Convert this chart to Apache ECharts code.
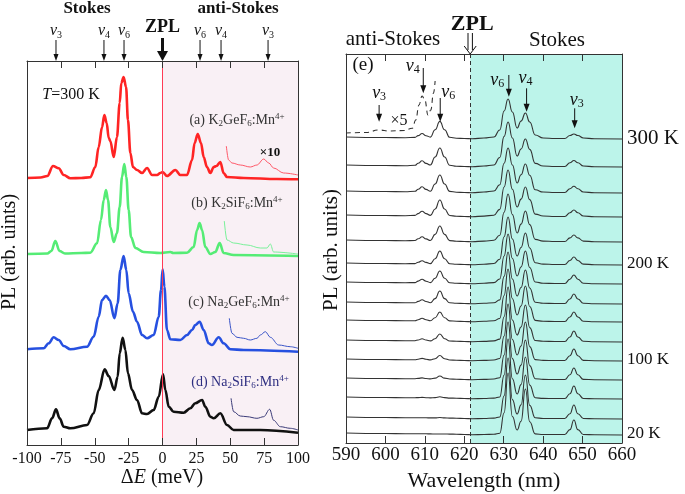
<!DOCTYPE html>
<html><head><meta charset="utf-8">
<script src="https://cdn.jsdelivr.net/npm/echarts/dist/echarts.min.js"></script>
<style>html,body{margin:0;padding:0;background:#fff}#c{width:685px;height:494px}</style>
</head><body><div id="c"></div>
<script>
// ---------- LEFT PANEL DATA (ΔE in meV, PL arb. units) ----------
const k2gef6 = [[-100,267],[-90,267.5],[-85,269],[-80.8,279],[-76.6,276.7],[-72.9,270],[-68,266.7],[-60,267],[-53.3,267.7],[-49.6,278],[-47.1,298],[-44.6,318],[-42.9,330],[-41.2,322],[-39.7,307],[-38.5,304],[-36,288],[-33.6,308],[-31.6,342],[-30.4,362],[-28.7,368],[-26.9,358],[-25.5,325],[-23.7,292],[-21.8,278],[-18.8,275],[-15.1,272],[-11.4,277],[-7.7,270],[-4,270],[-1.6,272],[0.1,273],[3.3,269],[9.5,275],[13.2,270],[18.1,270],[21.8,285],[23.7,302],[26,311],[28.4,302],[30.4,288],[32.8,278],[35.3,272],[37.8,278],[39.8,279],[42.7,283],[45.1,272],[47.6,268],[60,267],[84.5,266],[100,265.7]];
const k2gef6x10 = [[47.1,299],[48.8,285],[51.3,282],[57.4,280],[64.8,278],[69.7,280],[74.7,286],[78.4,282],[82,277],[89.4,272],[100,270]];
const k2sif6 = [[-100,191],[-85,191.5],[-82,194],[-79.1,204],[-76,194],[-72,191.5],[-60,192],[-53.3,192.3],[-48.3,201.7],[-45.4,225],[-43.4,245],[-41.7,255],[-40.2,245],[-38.5,218],[-36,203],[-33.6,212],[-31.6,238],[-29.9,268],[-28.2,281],[-26.7,268],[-25,235],[-23.2,208],[-20,197],[-13.9,193],[-1.6,192],[5.8,193],[8,192],[18.1,192.3],[23,198],[25.5,215],[27.4,222],[29.2,215],[31.6,198],[35.3,191],[39,193],[42.2,202],[45.1,192],[52.5,190],[100,189]];
const k2sif6x10 = [[45.6,224],[47.6,205],[52.5,202],[62.4,200],[72.2,197],[77.1,197],[79.6,201],[82,193],[100,191]];
const na2gef6 = [[-100,95.7],[-87.7,96.7],[-84,101.7],[-80.3,107.7],[-76.6,105],[-72.9,99],[-68,95.7],[-55.7,98.3],[-50.8,108.3],[-47.1,128.3],[-44.6,145],[-41.7,149.3],[-39,145],[-35.5,126.7],[-33.1,141.7],[-31.1,175],[-28.7,189],[-26.7,175],[-25,151.7],[-21.8,133.3],[-18.8,123.3],[-15.1,110],[-11.4,106.7],[-6.5,110],[-2.8,128.3],[-1.1,155],[0.1,175.7],[1.4,158.3],[3.3,115],[5.8,105.7],[13.2,105],[18.1,110],[21.8,115],[24.2,120],[27.4,123.3],[30.4,115],[34.1,101.7],[36.5,100],[41.5,107.7],[45.1,101.7],[50.1,95.7],[59.9,95],[100,93.3]];
const na2gef6x10 = [[49.3,126.7],[51.3,111.7],[55,107.7],[59.9,106.7],[64.8,105],[69.7,106.7],[72.2,110],[75.9,113.3],[79.6,107.7],[85.7,100],[94.3,98.3],[100,96.7]];
const na2sif6 = [[-100,15],[-85.2,16.7],[-81.5,26.7],[-78.6,35.7],[-75.9,26.7],[-72.9,18.3],[-68,16.7],[-55.7,20],[-50.8,31.7],[-47.1,55],[-42.7,75.7],[-39.7,69],[-35.5,55],[-33.1,68.3],[-31.6,91.7],[-29.4,107.3],[-27.4,95],[-25.5,71.7],[-22.5,55],[-18.8,45],[-15.1,31.7],[-11.4,31],[-6.5,35],[-2.8,48.3],[0.4,70.7],[2.1,55],[4.6,38.3],[8.2,33.3],[15.6,32.3],[20.5,36.7],[24.2,41.7],[29.2,45],[31.6,38.3],[35.3,28.3],[37.8,26.7],[42.7,31.7],[47.6,20],[52.5,15],[72.2,15],[100,12.3]];
const na2sif6x10 = [[50.6,46.7],[52.5,33.3],[57.4,29],[62.4,28.3],[69.7,26.7],[74.7,28.3],[79.1,35.7],[82,24.7],[87,18.3],[94.3,16.7],[100,15]];
const leftTicks = [-100,-75,-50,-25,0,25,50,75,100];
const leftModes = [['3',-78.6],['4',-43.2],['6',-28.4],['6',27.7],['4',43.2],['3',77.9]];

// ---------- RIGHT PANEL DATA (wavelength in nm) ----------
const wavelengths = [590,600,605,607.5,608.3,609.3,610.3,611.4,612.6,613.8,615.0,616.3,618,620,622,625,627.5,629,630.1,631.1,632.2,633.4,634.4,635.5,636.6,638,640,643,645.5,646.8,647.8,648.8,650.2,653,660];
const temps = [300,280,260,240,220,200,180,160,140,120,100,80,60,40,20];
const offsets = [304,276,250,226,201,178,159,139,121,101,82,63,44,24,8];
const spectra = [
 [2,1.5,1.3,1.6,3.4,5.5,3.3,1.9,9.3,17.6,9.3,1.7,0.8,0.5,0.3,1,2,9,28,40,27,11,18,26,17,4,1,0.5,0.5,3.5,5,3.5,1,0.3,0],
 [2,1.5,1.3,1.7,3.7,6.2,3.6,2,10,19,10,1.8,0.8,0.5,0.3,1,2,9.5,30.6,45,29,11,18,28,17.6,3.6,1,0.5,0.5,4.3,6.5,4.3,1,0.3,0],
 [2,1.5,1.3,1.7,3.7,6.2,3.6,1.8,9,18,9,1.6,0.8,0.5,0.3,1,2,8.2,29.7,45,28,10,18.2,29,17.7,3.2,1,0.5,0.5,4.3,6.7,4.3,1,0.3,0],
 [2,1.5,1.3,1.6,3.4,5.7,3.4,1.6,8,17,8,1.5,0.8,0.5,0.3,0.9,1.8,7.6,30,47,27.8,10,17.9,30,17.4,2.9,1,0.5,0.5,4.3,7,4.3,1,0.3,0],
 [2,1.5,1.3,1.5,3.2,5.2,3.1,1.5,7.6,16,7.6,1.4,0.8,0.5,0.3,0.9,1.7,6.8,29.8,48,27.4,9,17.9,31,17.4,2.6,0.9,0.5,0.5,4.1,7,4.1,0.9,0.3,0],
 [2,1.5,1.3,1.4,2.7,4.2,2.6,1.4,6.2,14,6.2,1.3,0.8,0.5,0.3,0.8,1.5,5.8,28.3,48,26,9,17.5,32,17,2.3,0.9,0.5,0.5,4.5,8,4.5,0.9,0.3,0],
 [2,1.5,1.3,1.4,2.9,4.7,2.8,1.4,5.8,13,5.8,1.3,0.8,0.5,0.3,0.8,1.4,5,28,50,25.5,8,17,33,16.5,2,0.8,0.5,0.5,4.8,9,4.8,0.8,0.3,0],
 [2,1.5,1.3,1.3,2.6,4.2,2.5,1.3,5.4,13,5.4,1.2,0.8,0.5,0.3,0.7,1.3,4.1,27.6,52,25,8,16.5,34,16,1.8,0.8,0.5,0.5,5,10,5,0.8,0.3,0],
 [2,1.5,1.3,1.3,2.3,3.7,2.3,1.2,4.3,10,4.3,1.1,0.8,0.5,0.3,0.7,1.2,3.5,26.5,53,23.3,7,16,36,15.5,1.6,0.7,0.5,0.5,5,10,5,0.7,0.3,0],
 [2,1.5,1.3,1.3,2,3.2,2,1.1,3.3,8,3.3,1,0.8,0.5,0.3,0.6,1.1,2.9,25.3,55,22,7,15,37,14.4,1.5,0.7,0.5,0.5,5,11,5,0.7,0.3,0],
 [2,1.5,1.3,1.3,1.8,2.6,1.7,1.1,2.3,5.5,2.3,1,0.8,0.5,0.3,0.6,1,2.5,25,57,21.5,6,15,39,14.4,1.4,0.6,0.5,0.5,5.3,12,5.3,0.6,0.3,0],
 [2,1.5,1.3,1.3,1.6,2.1,1.5,1.1,1.9,4,1.9,1,0.8,0.5,0.3,0.6,1,2.3,25,58,21.4,6,14.9,40,14.4,1.3,0.6,0.5,0.5,5.2,12,5.2,0.6,0.3,0],
 [2,1.5,1.3,1.3,1.4,1.6,1.3,1.1,1.4,2.2,1.4,0.9,0.8,0.5,0.3,0.5,0.9,2,24,60,20.3,5,14.4,42,13.9,1.2,0.6,0.5,0.5,5.2,13,5.2,0.5,0.3,0],
 [2,1.5,1.3,1.3,1.3,1.3,1.2,1.1,1.1,1.5,1.1,0.9,0.8,0.5,0.3,0.5,0.9,2,23.2,61,19.4,5,14.1,44,13.6,1.2,0.5,0.5,0.5,5.3,14,5.3,0.5,0.3,0],
 [2,1.5,1.3,1.3,1.3,1.3,1.2,1.1,1,1,1,0.9,0.8,0.5,0.3,0.5,0.8,1.8,22.3,62,18.5,5,13.8,46,13.3,1.1,0.5,0.5,0.5,5.4,15,5.4,0.5,0.3,0]
];
const antiStokesX5 = [[590,310],[595,310.5],[598.4,313],[601,312],[604.8,312.5],[606.8,314.7],[607.7,323],[608.5,338],[609.3,347],[610,343],[610.8,328],[611.5,333],[612.2,350],[612.6,362]];
const zplWavelength = 621.5;
const rightModes = [['3',598.4,338,321.3],['4',609.6,375,349.7],['6',613.9,345,321.3],['6',631.3,368,346.3],['4',635.8,354.7,331.3],['3',648,334.7,314.7]];
const labelledTemps = [300,200,100,20];

// ---------- CHART ----------
const FONT = 'Liberation Serif';
const axisCommon = (grid, pos, min, max, iv, showLabel, fs, margin) => ({
  gridIndex: grid, type: 'value', position: pos, min, max, interval: iv, z: 10,
  axisLine: {show: true, onZero: false, lineStyle: {color: '#333', width: 1}},
  axisTick: {show: true, inside: true, length: 7, lineStyle: {color: '#333'}},
  axisLabel: {show: showLabel, fontFamily: FONT, fontSize: fs, color: '#111', margin},
  splitLine: {show: false}
});
const yCommon = (grid, pos, max) => ({
  gridIndex: grid, type: 'value', position: pos, min: 0, max, z: 10,
  axisLine: {show: true, onZero: false, lineStyle: {color: '#333', width: 1}},
  axisTick: {show: false}, axisLabel: {show: false}, splitLine: {show: false}
});
const lineS = (xi, data, color, width, extra, sm) => Object.assign({
  type: 'line', xAxisIndex: xi, yAxisIndex: xi, data, showSymbol: false, symbol: 'none',
  smooth: sm || 0.35, smoothMonotone: 'x', silent: true,
  lineStyle: {color, width}
}, extra || {});

const series = [
  lineS(0, k2gef6, '#ff2424', 2.6, {
    markArea: {silent: true, itemStyle: {color: '#f9f0f5'}, data: [[{xAxis: 0}, {xAxis: 100}]]},
    markLine: {silent: true, symbol: 'none', label: {show: false}, lineStyle: {color: '#ff3a55', width: 1, type: 'solid'}, data: [{xAxis: 0}]}
  }),
  lineS(0, k2gef6x10, '#ff5a6a', 1),
  lineS(0, k2sif6, '#55ec75', 2.6),
  lineS(0, k2sif6x10, '#7af09a', 1),
  lineS(0, na2gef6, '#2650e0', 2.6),
  lineS(0, na2gef6x10, '#3a55c8', 1),
  lineS(0, na2sif6, '#111111', 2.6),
  lineS(0, na2sif6x10, '#3b3b78', 1)
];
spectra.forEach((h, i) => {
  const extra = i === 0 ? {
    markArea: {silent: true, itemStyle: {color: '#bcf4ea'}, data: [[{xAxis: zplWavelength}, {xAxis: 660}]]},
    markLine: {silent: true, symbol: 'none', label: {show: false}, lineStyle: {color: '#333', width: 1, type: [4, 3]}, data: [{xAxis: zplWavelength}]}
  } : {};
  series.push(lineS(2, wavelengths.map((w, j) => [w, offsets[i] + h[j]]), '#333', 1.1, extra, 0.5));
});
series.push(lineS(2, antiStokesX5, '#333', 1.1, {lineStyle: {color: '#333', width: 1.1, type: [5, 4]}}, 0.45));

const option = {
  animation: false,
  backgroundColor: '#fff',
  textStyle: {fontFamily: FONT},
  grid: [
    {left: 27, top: 61, width: 271, height: 384, show: false},
    {left: 346, top: 54, width: 276, height: 389, show: false}
  ],
  xAxis: [
    axisCommon(0, 'bottom', -100, 100, 25, true, 16, 6),
    axisCommon(0, 'top', -100, 100, 25, false, 16, 6),
    axisCommon(1, 'bottom', 590, 660, 10, true, 19, 3),
    axisCommon(1, 'top', 590, 660, 10, false, 19, 3)
  ],
  yAxis: [
    yCommon(0, 'left', 384), yCommon(0, 'right', 384),
    yCommon(1, 'left', 389), yCommon(1, 'right', 389)
  ],
  series
};
const chart = echarts.init(document.getElementById('c'));
chart.setOption(option);

// ---------- ANNOTATIONS ----------
const L = (x, y) => chart.convertToPixel({xAxisIndex: 0, yAxisIndex: 0}, [x, y]);
const R = (x, y) => chart.convertToPixel({xAxisIndex: 2, yAxisIndex: 2}, [x, y]);
const g = [];
function txt(x, y, text, opt) {
  g.push({type: 'text', x, y, z: 100, silent: true, rotation: opt.rotation || 0,
    style: Object.assign({text, align: 'center', verticalAlign: 'middle', fill: '#111', fontFamily: FONT}, opt.style)});
}
function rich(size, subSize, color) {
  return {
    m: {fontFamily: FONT, fontSize: size, fill: color, lineHeight: size + 2},
    i: {fontFamily: FONT, fontSize: size, fill: color, fontStyle: 'italic', lineHeight: size + 2},
    s: {fontFamily: FONT, fontSize: subSize, fill: color, verticalAlign: 'bottom', lineHeight: subSize},
    p: {fontFamily: FONT, fontSize: subSize, fill: color, verticalAlign: 'top', lineHeight: subSize}
  };
}
function arrow(x, y1, y2, lw, hw, hl, color) {
  g.push({type: 'line', z: 100, silent: true, shape: {x1: x, y1: y1, x2: x, y2: y2 - hl + 1}, style: {stroke: color, lineWidth: lw}});
  g.push({type: 'polygon', z: 100, silent: true, shape: {points: [[x - hw, y2 - hl], [x + hw, y2 - hl], [x, y2]]}, style: {fill: color}});
}
// Left panel
const lTop = L(0, 384)[1];
txt(87, 9, 'Stokes', {style: {fontSize: 17, fontWeight: 'bold'}});
txt(238, 9, 'anti-Stokes', {style: {fontSize: 17, fontWeight: 'bold'}});
leftModes.forEach(([n, e]) => {
  const px = L(e, 0)[0];
  txt(px, 31, '{i|ν}{s|' + n + '}', {style: {rich: rich(16, 10, '#111')}});
  arrow(px, 40, lTop, 1, 2.5, 7, '#111');
});
const zx = L(0, 0)[0];
txt(zx, 27, 'ZPL', {style: {fontSize: 18, fontWeight: 'bold'}});
arrow(zx, 38, lTop, 3, 5.5, 10, '#111');
txt(71, 95, '{i|T}{m|=300 K}', {style: {rich: rich(16, 10, '#111')}});
txt(237, 120, '{m|(a) K}{s|2}{m|GeF}{s|6}{m|:Mn}{p|4+}', {style: {rich: rich(14, 9, '#333')}});
txt(237, 203, '{m|(b) K}{s|2}{m|SiF}{s|6}{m|:Mn}{p|4+}', {style: {rich: rich(14, 9, '#333')}});
txt(239, 302, '{m|(c) Na}{s|2}{m|GeF}{s|6}{m|:Mn}{p|4+}', {style: {rich: rich(14, 9, '#333')}});
txt(240, 382, '{m|(d) Na}{s|2}{m|SiF}{s|6}{m|:Mn}{p|4+}', {style: {rich: rich(14, 9, '#2d2d80')}});
txt(270, 153, '×10', {style: {fontSize: 13, fontWeight: 'bold'}});
txt(10, 252, 'PL (arb. uints)', {rotation: Math.PI / 2, style: {fontSize: 20}});
txt(162, 478, '{m|Δ}{i|E}{m| (meV)}', {style: {rich: rich(20, 12, '#111')}});
// Right panel
const rTop = R(620, 389)[1];
txt(393, 39, 'anti-Stokes', {style: {fontSize: 21}});
txt(557, 40, 'Stokes', {style: {fontSize: 21}});
const zr = R(zplWavelength, 0)[0];
txt(zr + 2, 24, 'ZPL', {style: {fontSize: 22, fontWeight: 'bold'}});
g.push({type: 'line', z: 100, silent: true, shape: {x1: zr - 2.2, y1: 33, x2: zr - 2.2, y2: 50}, style: {stroke: '#111', lineWidth: 1}});
g.push({type: 'line', z: 100, silent: true, shape: {x1: zr + 2.2, y1: 33, x2: zr + 2.2, y2: 50}, style: {stroke: '#111', lineWidth: 1}});
g.push({type: 'polyline', z: 100, silent: true, shape: {points: [[zr - 6, 46], [zr, rTop], [zr + 6, 46]]}, style: {stroke: '#111', lineWidth: 1, fill: null}});
txt(363, 65, '(e)', {style: {fontSize: 19}});
txt(399, 121, '×5', {style: {fontSize: 16}});
const labOff = [[0, -12], [-10.5, -2], [8, -6], [-11.5, 5], [-1, -10], [2, -8]];
rightModes.forEach(([n, w, yt, yb], k) => {
  const p1 = R(w, yt), p2 = R(w, yb);
  arrow(p1[0], p1[1], p2[1], 1, 3, 8, '#111');
  txt(p1[0] + labOff[k][0], p1[1] + labOff[k][1], '{i|ν}{s|' + n + '}', {style: {rich: rich(18, 12, '#111')}});
});
labelledTemps.forEach(t => {
  const i = temps.indexOf(t);
  const p = R(660, offsets[i]);
  txt(p[0] + 5, p[1] - 1, t + ' K', {style: {fontSize: t === 300 ? 21 : 17, align: 'left'}});
});
txt(331, 250, 'PL (arb. units)', {rotation: Math.PI / 2, style: {fontSize: 21}});
txt(484, 481, 'Wavelength (nm)', {style: {fontSize: 22}});
chart.setOption({graphic: g});
</script></body></html>
